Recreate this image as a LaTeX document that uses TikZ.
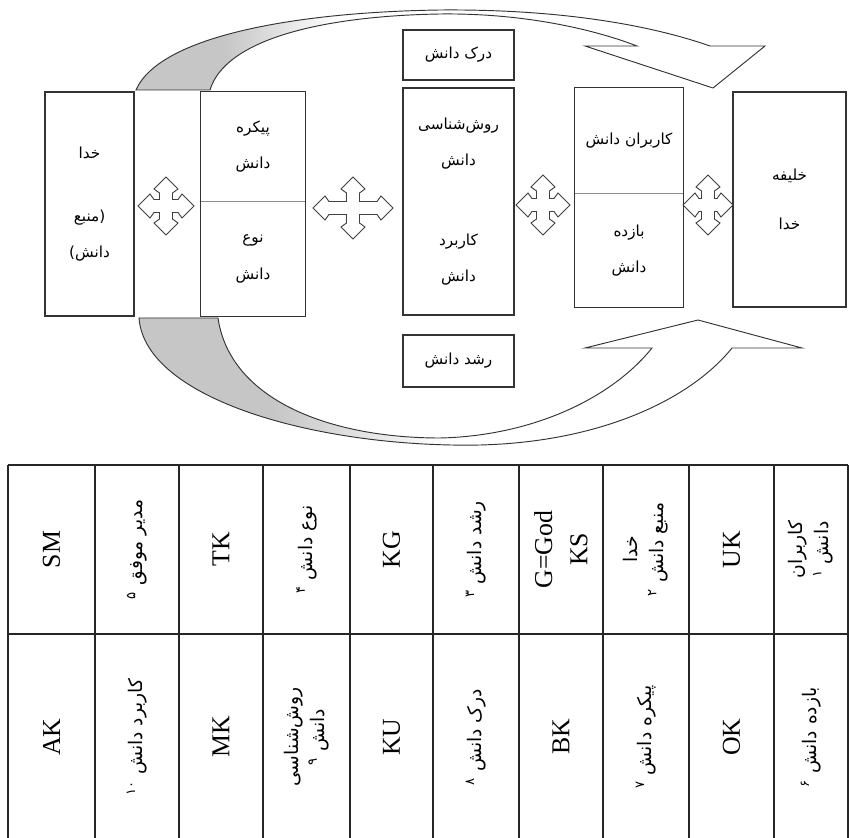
\documentclass[tikz,border=0pt]{standalone}
\usepackage{fontspec}
\setmainfont{Liberation Serif}
\newfontfamily\farsifont[Script=Arabic]{DejaVu Sans}
\TeXXeTstate=1
\usetikzlibrary{positioning}
\newcommand{\fa}[1]{{\farsifont\beginR #1\endR}}
\pgfdeclarehorizontalshading{topfade}{100bp}{color(0bp)=(gray!45); color(32bp)=(gray!45); color(41bp)=(white); color(100bp)=(white)}
\pgfdeclarehorizontalshading{lowfade}{100bp}{color(0bp)=(gray!45); color(35bp)=(gray!45); color(48bp)=(white); color(100bp)=(white)}
\tikzset{box/.style={draw=black!80,line width=0.9pt,align=center,inner sep=0pt,font=\fontsize{13}{31}\selectfont},half/.style={align=center,inner sep=0pt,font=\fontsize{13}{31}\selectfont},frame/.style={draw=black!80,line width=0.9pt},divider/.style={draw=black!45,line width=0.6pt},band/.style={draw=black!80,line width=0.8pt},grid/.style={black!85,line width=1.1pt},code/.style={rotate=90,align=center,font=\fontsize{22}{30}\selectfont},term/.style={rotate=90,align=center,font=\fontsize{16}{22}\selectfont},pics/quadarrow/.style n args={2}{code={\draw[draw=black!75,line width=0.8pt,fill=white] (#1,0) -- (#1-12,12) -- (#1-16,6.5) -- (6.5,6.5) -- (6.5,#2-16) -- (12,#2-12) -- (0,#2) -- (-12,#2-12) -- (-6.5,#2-16) -- (-6.5,6.5) -- (-#1+16,6.5) -- (-#1+12,12) -- (-#1,0) -- (-#1+12,-12) -- (-#1+16,-6.5) -- (-6.5,-6.5) -- (-6.5,-#2+16) -- (-12,-#2+12) -- (0,-#2) -- (12,-#2+12) -- (6.5,-#2+16) -- (6.5,-6.5) -- (#1-16,-6.5) -- (#1-12,-12) -- cycle;}}}
\begin{document}
\begin{tikzpicture}[x=0.3mm,y=-0.3mm]
\useasboundingbox (0,0) rectangle (849,838);
% circulation bands
\draw[band,shade,shading=topfade] (136,90) .. controls (160,35) and (300,12) .. (440,10) .. controls (560,9) and (650,25) .. (710,46) -- (765,46) -- (713,88) -- (585,46) -- (637,46) .. controls (590,28) and (520,13) .. (440,14) .. controls (320,16) and (225,40) .. (210,90) -- cycle;
\draw[band,shade,shading=lowfade] (139,318) .. controls (145,400) and (320,448) .. (480,445) .. controls (600,442) and (690,400) .. (732,348) -- (802,348) -- (698,320) -- (585,348) -- (652,348) .. controls (610,400) and (530,436) .. (440,438) .. controls (330,438) and (230,400) .. (218,318) -- cycle;
% model boxes
\node[box,minimum width=26.7mm,minimum height=67.2mm] (god) at (89.5,204) {\fa{خدا}\\[8mm]\fa{(منبع}\\\fa{دانش)}};
\node[half,minimum width=31.2mm,minimum height=32.7mm] (body) at (253,146.5) {\fa{پیکره}\\\fa{دانش}};
\node[half,minimum width=31.2mm,minimum height=34.5mm,below=0pt of body] (kind) {\fa{نوع}\\\fa{دانش}};
\draw[frame] (body.north west) rectangle (kind.south east);
\draw[divider] (body.south west) -- (body.south east);
\node[box,minimum width=33.3mm,minimum height=15mm] (perc) at (458.5,55) {\fa{درک دانش}};
\node[box,minimum width=33.3mm,minimum height=68.1mm] (meth) at (458.5,201.5) {\fa{روش‌شناسی}\\\fa{دانش}\\[13mm]\fa{کاربرد}\\\fa{دانش}};
\node[box,minimum width=33.3mm,minimum height=15.6mm] (grow) at (458.5,361) {\fa{رشد دانش}};
\node[half,minimum width=32.4mm,minimum height=31.5mm] (users) at (629,140.5) {\fa{کاربران دانش}};
\node[half,minimum width=32.4mm,minimum height=34.2mm,below=0pt of users] (outp) {\fa{بازده}\\\fa{دانش}};
\draw[frame] (users.north west) rectangle (outp.south east);
\draw[divider] (users.south west) -- (users.south east);
\node[box,minimum width=33.9mm,minimum height=64.5mm] (heir) at (789.5,199.5) {\fa{خلیفه}\\[4mm]\fa{خدا}};
% two-way links
\pic at (166,206) {quadarrow={28}{29}};
\pic at (353,208) {quadarrow={40}{31}};
\pic at (543,205) {quadarrow={27}{30}};
\pic at (708,205) {quadarrow={25}{30}};
% symbol table
\draw[grid] (8,465) -- (848,465);
\draw[grid] (8,634) -- (848,634);
\foreach \x in {8,95,179,263,350,433,519,603,689,774,848} \draw[grid] (\x,465) -- (\x,838);
\node[code] (sm) at (51.5,549.5) {SM};
\node[term] (sm-fa) at (137,549.5) {\fa{مدیر موفق\ \textsuperscript{۵}}};
\node[code] (tk) at (221,549.5) {TK};
\node[term] (tk-fa) at (306.5,549.5) {\fa{نوع دانش\ \textsuperscript{۴}}};
\node[code] (kg) at (391.5,549.5) {KG};
\node[term] (kg-fa) at (476,549.5) {\fa{رشد دانش\ \textsuperscript{۳}}};
\node[code] (ks) at (561,549.5) {G=God\\KS};
\node[term] (ks-fa) at (646,549.5) {\fa{خدا}\\\fa{منبع دانش\ \textsuperscript{۲}}};
\node[code] (uk) at (731.5,549.5) {UK};
\node[term] (uk-fa) at (811,549.5) {\fa{کاربران}\\\fa{دانش\ \textsuperscript{۱}}};
\node[code] (ak) at (51.5,737) {AK};
\node[term] (ak-fa) at (137,737) {\fa{کاربرد دانش\ \textsuperscript{۱۰}}};
\node[code] (mk) at (221,737) {MK};
\node[term] (mk-fa) at (306.5,737) {\fa{روش‌شناسی}\\\fa{دانش\ \textsuperscript{۹}}};
\node[code] (ku) at (391.5,737) {KU};
\node[term] (ku-fa) at (476,737) {\fa{درک دانش\ \textsuperscript{۸}}};
\node[code] (bk) at (561,737) {BK};
\node[term] (bk-fa) at (646,737) {\fa{پیکره دانش\ \textsuperscript{۷}}};
\node[code] (ok) at (731.5,737) {OK};
\node[term] (ok-fa) at (811,737) {\fa{بازده دانش\ \textsuperscript{۶}}};
\end{tikzpicture}
\end{document}
